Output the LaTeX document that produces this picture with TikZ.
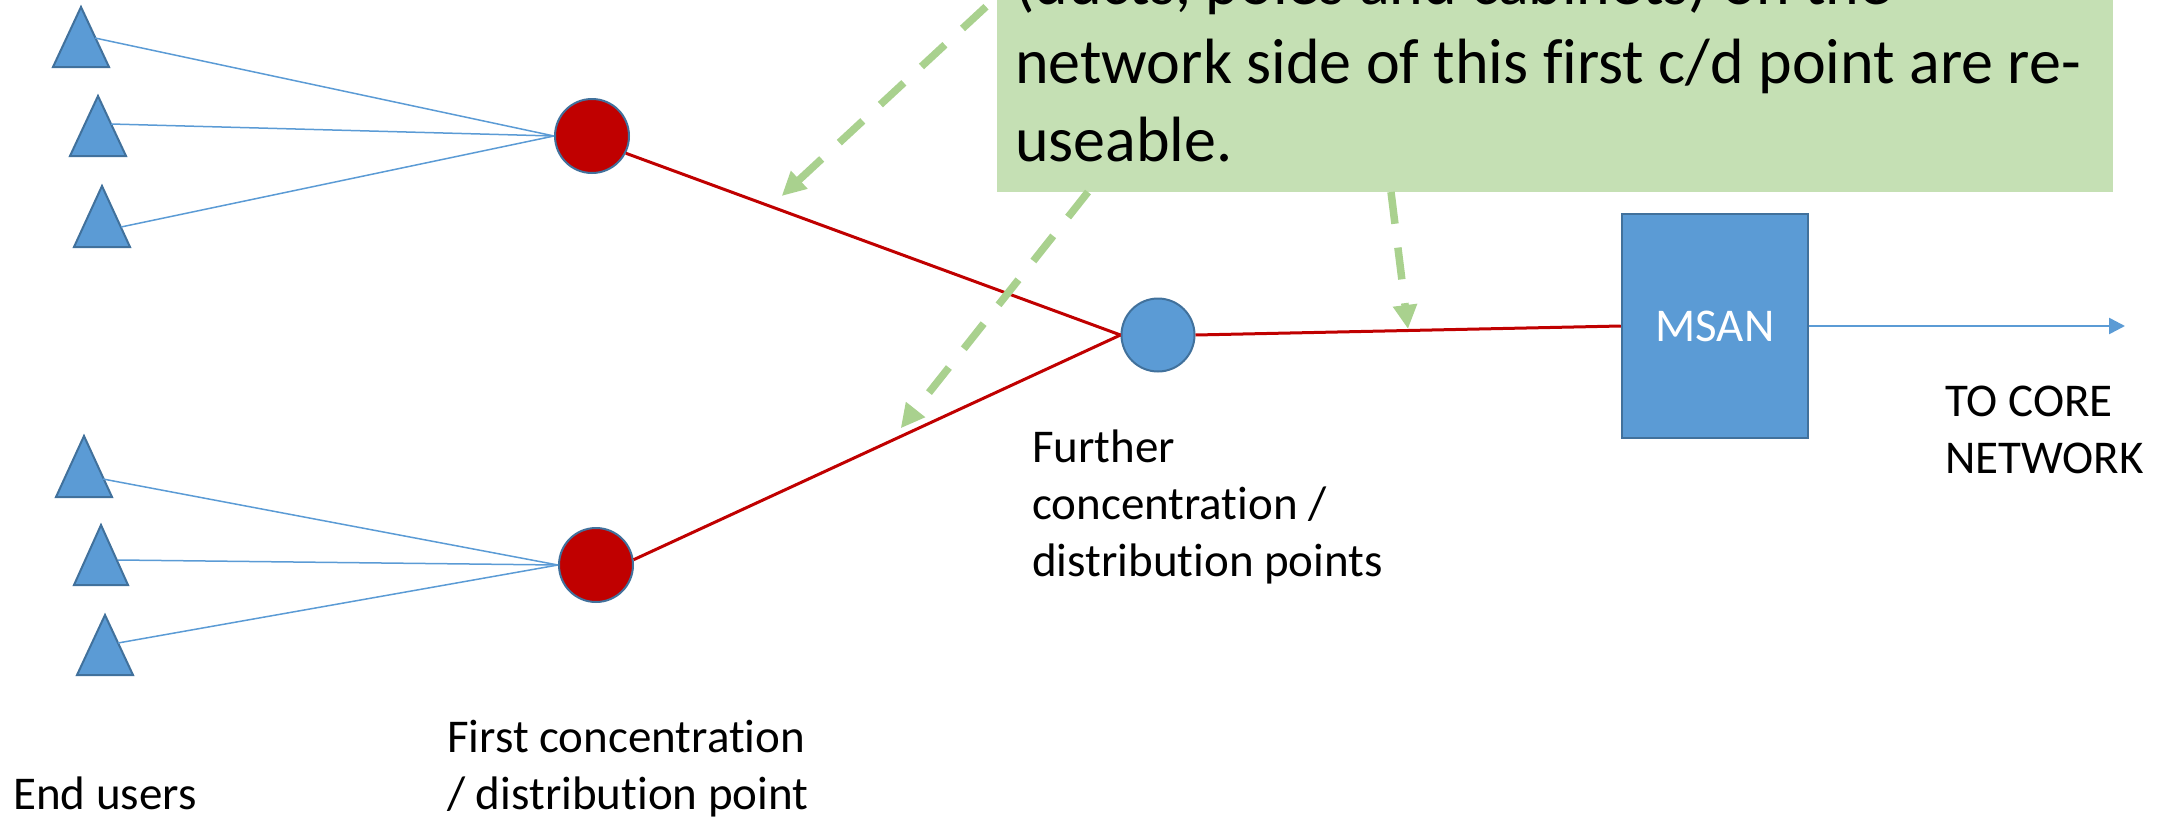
\documentclass[tikz,border=0pt]{standalone}
\usepackage{fontspec}
\setmainfont{Carlito}[Ligatures=NoCommon]
\usetikzlibrary{arrows.meta,calc}
\definecolor{nodeblue}{HTML}{5B9BD5}
\definecolor{edgeblue}{HTML}{41719C}
\definecolor{linkred}{HTML}{C00000}
\definecolor{notegreen}{HTML}{C5E0B4}
\definecolor{arrowgreen}{HTML}{A9D18E}
\begin{document}
\begin{tikzpicture}[x=1pt,y=-1pt,
  enduser/.style={fill=nodeblue, draw=edgeblue, line width=2pt, line join=miter},
  droplink/.style={draw=nodeblue, line width=1.5pt},
  firstcd/.style={circle, fill=linkred, draw=edgeblue, line width=2pt, minimum size=74pt, inner sep=0pt},
  furthercd/.style={circle, fill=nodeblue, draw=edgeblue, line width=2pt, minimum size=73pt, inner sep=0pt},
  feeder/.style={draw=linkred, line width=3pt},
  msanbox/.style={rectangle, fill=nodeblue, draw=edgeblue, line width=2.5pt, minimum width=186pt, minimum height=224pt, inner sep=0pt, text=white, font=\fontsize{47}{57}\selectfont},
  lbltext/.style={inner sep=0pt, align=left, font=\fontsize{47}{57}\selectfont},
  notebox/.style={rectangle, fill=notegreen, inner sep=0pt, minimum width=1116pt, minimum height=300pt},
  notetext/.style={inner sep=0pt, align=left, font=\fontsize{64}{78.4}\selectfont},
  reuse/.style={draw=arrowgreen, line width=7.5pt, dash pattern=on 32pt off 24pt, -{Triangle[length=24pt,width=23pt]}},
  uplink/.style={draw=nodeblue, line width=2.5pt, -{Triangle[length=16pt,width=16pt]}}
]
\useasboundingbox (0,0) rectangle (2166,822);
\clip (0,0) rectangle (2166,822);

% end users (triangles) with the points where their drops leave them
\foreach \ax/\ay/\hw/\h in {81/7/28/60, 98/96/28/60, 102/186/28/61, 84/436/28/61, 101/525/27/60, 105/615/28/60}
  \filldraw[enduser] (\ax,\ay) -- (\ax+\hw,\ay+\h) -- (\ax-\hw,\ay+\h) -- cycle;
\coordinate (u1) at (95,38);
\coordinate (u2) at (111,124);
\coordinate (u3) at (121,227);
\coordinate (u4) at (103,479);
\coordinate (u5) at (118,560);
\coordinate (u6) at (118,643);

% concentration / distribution points
\node[firstcd] (c1) at (592,136) {};
\node[firstcd] (c2) at (596,565) {};
\node[furthercd] (b1) at (1158,335) {};
\node[msanbox] (msan) at (1715,326) {MSAN};

% note box
\node[notebox, anchor=south west] (note) at (997,192) {};
\node[notetext, anchor=base west] (notetxt) at (1015,161.7)
  {(ducts, poles and cabinets) on the\\network side of this first c/d point are re-\\useable.};

% drops from end users
\foreach \u in {u1,u2,u3} \draw[droplink] (\u) -- (c1.west);
\foreach \u in {u4,u5,u6} \draw[droplink] (\u) -- (c2.west);

% feeder links
\draw[feeder] (c1.-27) -- (b1.west);
\draw[feeder] (c2.8) -- (b1.west);
\draw[feeder] (b1.east) -- (msan.west);

% re-use arrows
\coordinate (a1e) at (781.7,196);
\coordinate (a2e) at (900.7,428.3);
\coordinate (a3e) at (1408,329);
\draw[reuse, dash phase=41pt] ($(note.south west)+(0,-195.5)$) -- (a1e);
\draw[reuse] ($(note.south west)+(91,0)$) -- (a2e);
\draw[reuse] ($(note.south west)+(394,0)$) -- (a3e);

% towards the core
\coordinate (core) at (2125,326);
\draw[uplink] (msan.east) -- (core);

% captions
\node[lbltext, anchor=base west] (endlbl) at (13,809.5) {End users};
\node[lbltext, anchor=base west] (firstlbl) at (447,809.5) {First concentration\\/ distribution point};
\node[lbltext, anchor=base west] (furtherlbl) at (1032,576.7) {Further\\concentration /\\distribution points};
\node[lbltext, anchor=base west] (corelbl) at (1945,473.3) {TO CORE\\NETWORK};
\end{tikzpicture}
\end{document}
